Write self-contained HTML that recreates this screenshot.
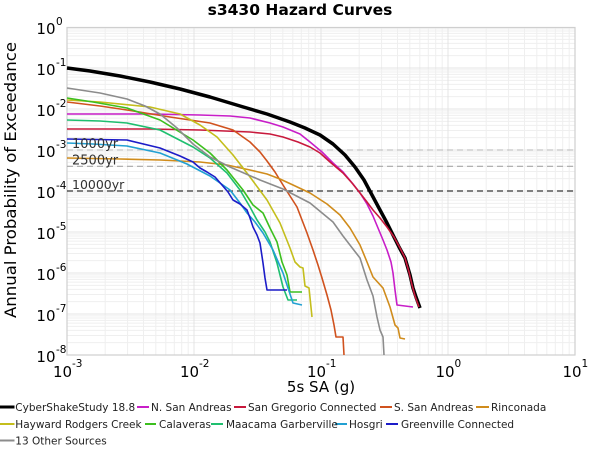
<!DOCTYPE html>
<html><head><meta charset="utf-8"><style>
html,body{margin:0;padding:0;background:#fff;}
svg{display:block;}
text{font-family:"DejaVu Sans","Liberation Sans",sans-serif;}
</style></head><body>
<svg width="600" height="450" viewBox="0 0 600 450" xmlns="http://www.w3.org/2000/svg">
<rect width="600" height="450" fill="#fff"/>
<!-- minor grid -->
<path fill="none" stroke="#efefef" stroke-width="1" d="
M105.2 27V355M127.6 27V355M143.5 27V355M155.8 27V355M165.8 27V355M174.3 27V355M181.7 27V355M188.2 27V355
M232.2 27V355M254.6 27V355M270.5 27V355M282.8 27V355M292.8 27V355M301.3 27V355M308.7 27V355M315.2 27V355
M359.2 27V355M381.6 27V355M397.5 27V355M409.8 27V355M419.8 27V355M428.3 27V355M435.7 27V355M442.2 27V355
M486.2 27V355M508.6 27V355M524.5 27V355M536.8 27V355M546.8 27V355M555.3 27V355M562.7 27V355M569.2 27V355
M67 55.66H575M67 48.44H575M67 43.32H575M67 39.34H575M67 36.1H575M67 33.35H575M67 30.97H575M67 28.88H575
M67 96.66H575M67 89.44H575M67 84.32H575M67 80.34H575M67 77.1H575M67 74.35H575M67 71.97H575M67 69.88H575
M67 137.66H575M67 130.44H575M67 125.32H575M67 121.34H575M67 118.1H575M67 115.35H575M67 112.97H575M67 110.88H575
M67 178.66H575M67 171.44H575M67 166.32H575M67 162.34H575M67 159.1H575M67 156.35H575M67 153.97H575M67 151.88H575
M67 219.66H575M67 212.44H575M67 207.32H575M67 203.34H575M67 200.1H575M67 197.35H575M67 194.97H575M67 192.88H575
M67 260.66H575M67 253.44H575M67 248.32H575M67 244.34H575M67 241.1H575M67 238.35H575M67 235.97H575M67 233.88H575
M67 301.66H575M67 294.44H575M67 289.32H575M67 285.34H575M67 282.1H575M67 279.35H575M67 276.97H575M67 274.88H575
M67 342.66H575M67 335.44H575M67 330.32H575M67 326.34H575M67 323.1H575M67 320.35H575M67 317.97H575M67 315.88H575"/>
<!-- major grid -->
<path fill="none" stroke="#e4e4e4" stroke-width="1" d="M194 27V355M321 27V355M448 27V355
M67 68H575M67 109H575M67 150H575M67 191H575M67 232H575M67 273H575M67 314H575"/>
<!-- frame -->
<rect x="67" y="27.5" width="508" height="327.5" fill="none" stroke="#cfcfcf" stroke-width="1.2"/>

<!-- return period lines -->
<line x1="67" y1="150" x2="575" y2="150" stroke="#c4c4c4" stroke-width="1.2" stroke-dasharray="6,4"/>
<line x1="67" y1="166.3" x2="575" y2="166.3" stroke="#a8a8a8" stroke-width="1.2" stroke-dasharray="6,4"/>
<line x1="67" y1="191" x2="575" y2="191" stroke="#333" stroke-width="1.2" stroke-dasharray="6,4"/>

<g fill="none" stroke-linejoin="round" stroke-linecap="butt">
<!-- CyberShake -->
<polyline stroke="#000" stroke-width="3.5" points="67,68 90,71 120,76 150,82 180,89 210,97 240,106 267,114 290,122 305,128 320,135 333,144 345,155 355,167 364,180 372,195 380,210 387,223 393,235 399,247 405,258 410,275 413,288 416,297 420,308"/>
<!-- N. San Andreas -->
<polyline stroke="#c81ec8" stroke-width="1.6" points="67,114 150,114 200,115 230,116 250,118 270,123 283,127 300,134 310,142 322,152 333,163 343,172 353,184 360,193 367,204 373,216 378,228 383,240 387,250 391,262 393,273 395,290 397,305 405,306 413,307"/>
<!-- San Gregorio -->
<polyline stroke="#c8193c" stroke-width="1.6" points="67,129 150,129 200,130 250,132 270,134 283,137 298,142 310,147 320,153 330,162 343,173 352,183 360,193 367,202 373,210 380,218 387,227 394,237 400,248 405,258 409,272 412,285 415,296 419,307"/>
<!-- S. San Andreas -->
<polyline stroke="#d0521e" stroke-width="1.6" points="67,102 100,106 127,110 170,117 210,123 233,130 250,142 260,152 267,161 275,172 283,185 290,196 297,207 302,220 307,233 313,250 318,265 322,278 327,295 331,310 334,325 336,337 343,337 344,355"/>
<!-- Rinconada -->
<polyline stroke="#d08c1c" stroke-width="1.6" points="67,158 120,159 160,160 200,162 227,165 250,170 267,174 280,179 293,185 310,193 327,204 340,215 350,228 360,245 367,262 373,277 383,288 390,307 395,325 398,328 400,338 405,339"/>
<!-- Hayward -->
<polyline stroke="#c4be1c" stroke-width="1.6" points="67,100 100,102 150,107 180,114 200,125 217,137 233,155 250,177 267,200 280,223 290,248 295,262 300,267 303,268 305,286 309,288 312,317"/>
<!-- Calaveras -->
<polyline stroke="#3cbf1e" stroke-width="1.6" points="67,98 93,102 127,108 160,120 193,140 210,153 227,170 243,190 253,205 263,213 270,228 277,242 282,262 287,275 290,292 302,292"/>
<!-- Maacama -->
<polyline stroke="#1fbf6f" stroke-width="1.6" points="67,120 100,121 127,123 160,130 193,147 210,158 227,173 240,190 250,207 257,220 265,232 270,242 277,263 283,287 288,300 297,300"/>
<!-- Hosgri -->
<polyline stroke="#22a0d2" stroke-width="1.6" points="67,143 93,144 127,146 160,153 187,164 210,176 230,190 240,203 247,213 255,222 263,233 273,250 283,273 288,288 293,303 302,305"/>
<!-- Greenville -->
<polyline stroke="#1c1cc8" stroke-width="1.6" points="67,139 127,140 160,148 180,156 193,162 200,168 207,172 215,177 222,185 228,192 233,200 240,204 247,210 250,218 253,227 257,235 260,243 263,263 265,278 267,290 287,290"/>
<!-- Other -->
<polyline stroke="#8c8c8c" stroke-width="1.6" points="67,88 100,93 127,99 145,106 160,114 177,128 193,144 210,157 230,167 260,180 283,189 310,203 333,222 343,236 353,249 360,258 367,280 373,296 377,317 380,330 383,337 384,355"/>
</g>

<!-- return period labels -->
<g fill="#333" font-size="13">
<text x="72" y="148">1000yr</text>
<text x="72" y="164.5">2500yr</text>
<text x="72" y="189" font-size="12.5">10000yr</text>
</g>

<!-- title -->
<text x="300" y="15" text-anchor="middle" font-weight="bold" font-size="15.5" fill="#000">s3430 Hazard Curves</text>

<!-- y tick labels -->
<g fill="#000">
<text x="55.5" y="34" font-size="15" text-anchor="end">10</text><text x="56" y="25" font-size="10.5">0</text>
<text x="55.5" y="75" font-size="15" text-anchor="end">10</text><text x="56" y="66" font-size="10.5">-1</text>
<text x="55.5" y="116" font-size="15" text-anchor="end">10</text><text x="56" y="107" font-size="10.5">-2</text>
<text x="55.5" y="157" font-size="15" text-anchor="end">10</text><text x="56" y="148" font-size="10.5">-3</text>
<text x="55.5" y="198" font-size="15" text-anchor="end">10</text><text x="56" y="189" font-size="10.5">-4</text>
<text x="55.5" y="239" font-size="15" text-anchor="end">10</text><text x="56" y="230" font-size="10.5">-5</text>
<text x="55.5" y="280" font-size="15" text-anchor="end">10</text><text x="56" y="271" font-size="10.5">-6</text>
<text x="55.5" y="321" font-size="15" text-anchor="end">10</text><text x="56" y="312" font-size="10.5">-7</text>
<text x="55.5" y="362" font-size="15" text-anchor="end">10</text><text x="56" y="353" font-size="10.5">-8</text>
</g>
<!-- x tick labels -->
<g fill="#000">
<text x="53" y="377" font-size="15">10</text><text x="72" y="367" font-size="10.5">-3</text>
<text x="180" y="377" font-size="15">10</text><text x="199" y="367" font-size="10.5">-2</text>
<text x="307" y="377" font-size="15">10</text><text x="326" y="367" font-size="10.5">-1</text>
<text x="435.5" y="377" font-size="15">10</text><text x="454.5" y="367" font-size="10.5">0</text>
<text x="562.5" y="377" font-size="15">10</text><text x="581.5" y="367" font-size="10.5">1</text>
</g>

<!-- axis labels -->
<text x="321" y="392" text-anchor="middle" font-size="15" fill="#000">5s SA (g)</text>
<text transform="translate(16,180) rotate(-90)" text-anchor="middle" font-size="16" textLength="276" lengthAdjust="spacingAndGlyphs" fill="#000">Annual Probability of Exceedance</text>

<!-- legend -->
<g stroke-width="2">
<line x1="0" y1="407" x2="14.5" y2="407" stroke="#000" stroke-width="3"/>
<line x1="137" y1="407" x2="149" y2="407" stroke="#c81ec8"/>
<line x1="234" y1="407" x2="246" y2="407" stroke="#c8193c"/>
<line x1="380" y1="407" x2="392" y2="407" stroke="#d0521e"/>
<line x1="476" y1="407" x2="489" y2="407" stroke="#d08c1c"/>
<line x1="0" y1="424" x2="14.5" y2="424" stroke="#c4be1c"/>
<line x1="145" y1="424" x2="156" y2="424" stroke="#3cbf1e"/>
<line x1="211" y1="424" x2="223" y2="424" stroke="#1fbf6f"/>
<line x1="335" y1="424" x2="347" y2="424" stroke="#22a0d2"/>
<line x1="386" y1="424" x2="398" y2="424" stroke="#1c1cc8"/>
<line x1="0" y1="440.5" x2="14.5" y2="440.5" stroke="#8c8c8c"/>
</g>
<g font-size="10.5" fill="#222">
<text x="15.3" y="410.8">CyberShakeStudy 18.8</text>
<text x="151" y="410.8">N. San Andreas</text>
<text x="248" y="410.8">San Gregorio Connected</text>
<text x="394" y="410.8">S. San Andreas</text>
<text x="491" y="410.8">Rinconada</text>
<text x="15.3" y="427.8">Hayward Rodgers Creek</text>
<text x="159" y="427.8">Calaveras</text>
<text x="226" y="427.8">Maacama Garberville</text>
<text x="349" y="427.8">Hosgri</text>
<text x="401" y="427.8">Greenville Connected</text>
<text x="15.3" y="444.3">13 Other Sources</text>
</g>
</svg>
</body></html>
